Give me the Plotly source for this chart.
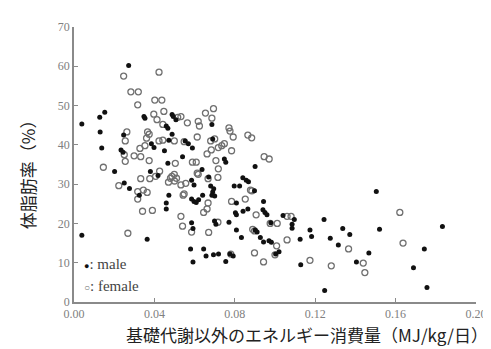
import plotly.graph_objects as go

male_x = [0.0039,0.0039,0.0128,0.0153,0.0130,0.0138,0.0202,0.0247,0.0234,0.0244,0.0250,0.0276,0.0272,0.0325,
          0.0348,0.0353,0.0364,0.0380,0.0385,0.0398,0.0418,0.0450,0.0459,0.0467,0.0472,0.0488,0.0488,0.0494,
          0.0507,0.0459,0.0459,0.0472,0.0467,0.0540,0.0553,0.0569,0.0589,0.0637,0.0686,0.0690,0.0748,0.0755,
          0.0901,0.0840,0.0857,0.0868,0.0585,0.0597,0.0670,0.0680,0.0690,0.0686,0.0700,0.0695,0.0640,0.0585,
          0.0597,0.0608,0.0620,0.0797,0.0824,0.0898,0.0808,0.0943,0.0803,0.0808,0.0841,0.0865,0.0940,0.0950,
          0.0960,0.0771,0.0699,0.0706,0.0585,0.0592,0.0808,0.0901,0.0911,0.0833,0.0927,0.0943,0.0970,0.0982,
          0.0979,0.0580,0.0645,0.0592,0.0657,0.0694,0.0719,0.0755,0.0776,0.0792,0.1003,0.1020,0.1040,0.1096,
          0.1085,0.1085,0.1504,0.1833,0.1520,0.1244,0.1337,0.1372,0.1174,0.1182,0.1125,0.1275,0.1315,0.1467,
          0.1405,0.1128,0.1743,0.1689,0.1756,0.1247]
male_y = [45.3,17.0,47.0,48.3,43.3,39.2,33.2,42.5,38.7,38.1,30.3,28.9,60.2,27.2,
          47.2,46.8,16.0,33.2,40.3,39.3,32.2,38.5,44.8,44.2,41.2,42.7,47.7,47.2,
          46.4,25.2,23.7,27.2,35.3,37.0,41.0,40.3,39.2,33.7,45.2,41.5,36.4,35.6,
          34.5,31.6,31.0,30.6,31.0,29.8,31.8,29.5,28.0,27.2,27.0,28.8,27.2,26.2,
          25.6,25.3,26.0,29.5,29.5,28.3,25.2,25.6,22.7,22.2,23.1,23.7,23.5,22.8,
          22.2,20.3,20.6,19.8,20.2,18.7,18.3,18.3,17.8,16.4,16.4,15.3,15.6,15.2,
          20.2,13.5,13.5,10.2,11.7,12.0,12.2,10.3,12.2,11.7,12.2,12.8,22.0,21.0,
          19.8,18.8,28.1,19.2,18.5,21.0,18.7,17.2,18.3,16.7,16.0,16.2,14.5,12.5,
          10.2,9.5,13.5,8.7,3.7,2.9]

female_x = [0.0423,0.0247,0.0283,0.0320,0.0402,0.0437,0.0317,0.0397,0.0413,0.0447,0.0442,0.0532,0.0516,
            0.0263,0.0255,0.0366,0.0374,0.0361,0.0353,0.0328,0.0423,0.0442,0.0499,0.0548,0.0250,0.0255,
            0.0299,0.0332,0.0374,0.0146,0.0426,0.0504,0.0406,0.0377,0.0332,0.0487,0.0499,0.0223,0.0317,
            0.0345,0.0364,0.0317,0.0341,0.0390,0.0268,0.0470,0.0480,0.0500,0.0510,0.0548,0.0532,0.0540,
            0.0532,0.0556,0.0613,0.0667,0.0716,0.0543,0.0667,0.0645,0.0662,0.0585,0.0670,0.0716,0.0784,
            0.0878,0.0885,0.0852,0.0906,0.0889,0.0898,0.0976,0.1011,0.1060,0.1008,0.1000,0.0898,0.0943,
            0.1080,0.0694,0.0654,0.0686,0.0564,0.0618,0.0624,0.0771,0.0776,0.0865,0.0884,0.0613,0.0792,
            0.0680,0.0700,0.0748,0.0735,0.0718,0.0784,0.0662,0.0683,0.0589,0.0608,0.0706,0.0718,0.0946,
            0.0971,0.0618,0.1621,0.1637,0.1060,0.1174,0.1280,0.1366,0.1439,0.1447,0.0780]
female_y = [58.5,57.5,53.5,53.5,51.4,51.4,50.2,47.8,46.4,48.5,45.2,47.2,47.0,
            43.3,41.0,43.3,42.7,41.7,39.8,39.1,41.0,41.2,41.0,40.8,37.5,35.8,
            37.2,37.0,36.0,34.3,33.3,35.3,32.0,31.4,31.4,32.0,32.5,29.6,28.1,
            28.5,27.9,26.2,23.1,23.3,17.5,30.5,31.5,30.8,31.5,27.5,21.8,19.3,
            29.8,30.2,32.8,31.4,31.7,27.2,25.2,22.8,23.7,17.8,17.7,20.3,25.6,
            28.5,28.3,26.2,22.2,18.5,18.1,20.0,20.0,15.8,14.3,12.0,12.5,10.2,
            21.8,49.2,48.1,46.8,45.6,46.0,44.8,44.3,43.5,42.5,41.8,42.0,42.0,
            41.0,41.5,40.3,39.8,39.3,38.5,37.7,38.7,35.6,35.6,36.0,33.9,37.0,
            36.4,32.5,22.8,15.0,21.8,10.6,9.2,13.5,9.9,7.5,12.2]

x_ticks = [0.00, 0.04, 0.08, 0.12, 0.16, 0.20]
x_ticklabels = ["0.00", "0.04", "0.08", "0.12", "0.16", "0.20"]
y_ticks = [0, 10, 20, 30, 40, 50, 60, 70]

fig = go.Figure()
fig.add_trace(go.Scatter(x=female_x, y=female_y, mode="markers", name="female",
                         marker=dict(symbol="circle-open", size=6, color="#707070",
                                     line=dict(width=1.3, color="#707070")),
                         showlegend=False))
fig.add_trace(go.Scatter(x=male_x, y=male_y, mode="markers", name="male",
                         marker=dict(symbol="circle", size=5, color="#111111"),
                         showlegend=False))

serif = "Liberation Serif"
tickfont = dict(family=serif, size=12, color="#808080")
fig.update_xaxes(range=[0, 0.2], tickvals=x_ticks, ticktext=x_ticklabels, showgrid=False,
                 zeroline=False, showline=True, linecolor="#8a8a8a", linewidth=1.5,
                 ticks="inside", ticklen=4, tickcolor="#8a8a8a", tickfont=tickfont)
fig.update_yaxes(range=[0, 70], tickvals=y_ticks, showgrid=False, zeroline=False,
                 showline=True, linecolor="#8a8a8a", linewidth=1.5,
                 ticks="inside", ticklen=4, tickcolor="#8a8a8a", tickfont=tickfont)

cjk = "Noto Sans CJK JP"
fig.add_annotation(text="基礎代謝以外のエネルギー消費量（MJ/kg/日）", xref="paper", yref="paper",
                   x=0.58, y=-0.118, xanchor="center", yanchor="middle", showarrow=False,
                   borderpad=0, font=dict(family=cjk, size=17, color="#222222"))
fig.add_annotation(text="体脂肪率（%）", xref="paper", yref="paper", textangle=-90,
                   x=-0.117, y=0.479, xanchor="center", yanchor="middle", showarrow=False,
                   font=dict(family=cjk, size=17, color="#222222"))
legfont = dict(family=serif, size=15, color="#444444")
fig.add_annotation(text='<span style="font-size:9px;color:#111111">●</span>: male',
                   xref="paper", yref="paper", x=0.02, y=0.139, xanchor="left", yanchor="middle",
                   showarrow=False, font=legfont)
fig.add_annotation(text='<span style="font-size:10px;color:#707070">○</span>: female',
                   xref="paper", yref="paper", x=0.02, y=0.057, xanchor="left", yanchor="middle",
                   showarrow=False, font=legfont)

fig.update_layout(width=491, height=349, margin=dict(l=66, r=15, t=14, b=55),
                  plot_bgcolor="white", paper_bgcolor="white")
fig.write_html("out.html")
